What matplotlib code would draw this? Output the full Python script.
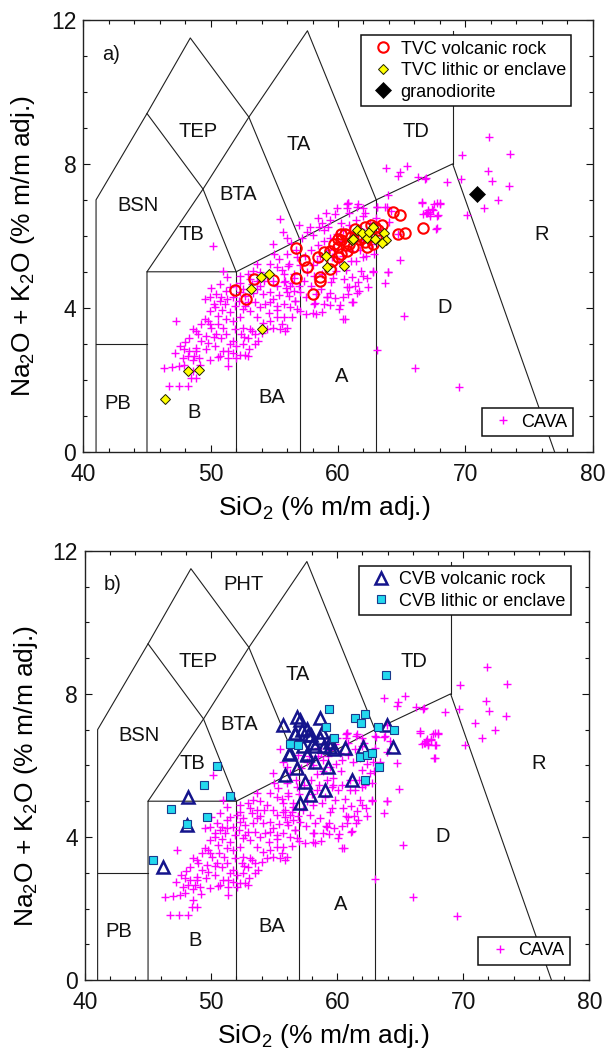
import matplotlib
matplotlib.use('Agg')
import matplotlib.pyplot as plt
from matplotlib.ticker import MultipleLocator

plt.rcParams['font.family'] = ['Liberation Sans', 'DejaVu Sans']
plt.rcParams['mathtext.fontset'] = 'custom'
plt.rcParams['mathtext.rm'] = 'Liberation Sans'
plt.rcParams['mathtext.default'] = 'regular'

# TAS field boundaries (SiO2, Na2O+K2O)
tas_lines = [
    [(41, 0), (41, 7), (45, 9.4), (48.4, 11.5), (53, 9.3), (57, 5.9)],
    [(41, 3), (45, 3)],
    [(45, 0), (45, 5), (52, 5), (57, 5.9), (63, 7), (69, 8), (77, 0)],
    [(52, 0), (52, 5)],
    [(57, 0), (57, 5.9)],
    [(63, 0), (63, 7)],
    [(45, 5), (49.4, 7.3), (53, 9.3), (57.6, 11.7), (63, 7)],
    [(45, 9.4), (49.4, 7.3), (52, 5)],
    [(69, 8), (69, 11.7)],
]
field_names = ['TEP', 'TA', 'TD', 'BTA', 'BSN', 'TB', 'R', 'D', 'A', 'BA', 'B', 'PB']
field_x = [49.0, 56.9, 66.1, 52.2, 44.3, 48.5, 76.0, 68.4, 60.3, 54.8, 48.7, 42.7]
field_y = [8.9, 8.55, 8.9, 7.15, 6.85, 6.05, 6.05, 4.0, 2.1, 1.5, 1.1, 1.35]

# CAVA compilation
cava_sio2 = [
    54.93, 50.17, 50.96, 47.27, 46.74, 47.48, 48.19, 46.34, 47.0, 47.53, 47.93, 48.46, 48.86, 48.59,
    47.8, 48.19, 48.72, 49.12, 47.93, 48.33, 48.86, 49.91, 50.57, 51.36, 51.36, 48.33, 48.99, 49.25,
    49.78, 50.31, 50.7, 50.96, 48.59, 48.86, 49.25, 49.78, 50.05, 50.44, 50.84, 51.23, 51.5, 51.76,
    51.36, 51.76, 52.02, 52.55, 52.68, 52.95, 52.29, 52.02, 52.42, 52.95, 53.48, 53.22, 53.74, 52.55,
    53.08, 53.61, 54.14, 54.67, 55.2, 55.6, 55.86, 55.47, 56.0, 54.93, 54.41, 53.87, 54.67, 55.2,
    55.73, 56.25, 56.78, 56.65, 56.12, 56.52, 49.91, 50.31, 50.7, 51.1, 51.5, 50.57, 51.23, 51.76,
    52.29, 49.91, 49.52, 50.44, 50.84, 51.23, 51.76, 52.29, 52.68, 52.95, 53.48, 52.55, 53.08, 50.7,
    51.5, 52.02, 52.55, 53.22, 53.61, 54.14, 54.67, 55.2, 55.73, 56.25, 52.29, 53.08, 53.61, 54.41,
    54.93, 55.73, 56.52, 55.2, 54.67, 53.61, 53.35, 55.33, 55.99, 56.78, 49.52, 49.91, 48.86, 49.64,
    63.74, 65.38, 64.85, 64.71, 66.25, 66.88, 66.6, 66.88, 67.2, 67.1, 63.71, 64.19, 63.97, 64.71,
    64.9, 63.92, 63.71, 65.19, 60.75, 61.6, 60.88, 63.09, 61.28, 61.94, 62.86, 63.39, 62.6, 61.94,
    61.41, 62.74, 61.94, 62.38, 61.67, 61.09, 60.09, 60.36, 60.75, 60.88, 60.48, 59.43, 59.83, 60.09,
    59.56, 59.03, 58.77, 59.17, 58.64, 58.24, 58.9, 58.11, 57.45, 58.24, 57.84, 57.05, 56.65, 55.99,
    55.73, 56.12, 56.52, 55.86, 58.11, 58.37, 59.69, 60.36, 61.02, 61.81, 61.02,
    71.86, 69.74, 73.49, 71.78, 66.83, 68.55, 69.66, 72.06, 73.39, 70.9, 72.54, 67.57, 68.02, 67.41,
    67.04, 66.7, 67.22, 67.78, 71.48, 70.16, 67.7, 66.04, 69.48,
    55.45, 59.03, 59.95, 60.73, 61.47, 62.12, 58.5, 59.37, 59.24, 58.06, 58.72, 63.95, 63.04, 63.82,
    66.57, 67.75, 68.01, 67.48, 67.87, 66.96, 67.75, 63.04, 63.95, 62.77, 62.25, 61.6, 61.08, 60.68,
    60.42, 60.16, 59.37, 59.63, 61.47, 61.2, 60.55, 59.76, 59.37, 58.72, 58.06, 58.19, 59.11, 57.15,
    57.8, 58.45, 60.68, 61.99, 60.81,
    50.0, 50.3, 50.9, 51.3, 51.9, 52.2, 52.7, 53.3, 53.9, 54.3, 54.9, 55.4, 55.9, 56.4, 56.9, 57.3,
    57.6, 57.0, 56.7, 57.4, 57.9, 58.4, 58.9, 59.4, 59.9, 60.4, 60.9, 61.4, 62.0, 62.5, 63.0, 62.4,
    61.8, 60.3, 59.7, 59.2, 58.6, 58.0, 57.5, 57.0, 56.4, 55.2, 54.6, 54.0, 53.5, 53.0, 52.6, 51.9,
    51.0, 50.3, 49.6, 49.2, 48.6, 48.0, 47.6, 47.2, 50.6, 52.3, 53.9, 54.2, 55.6, 56.1, 52.9, 51.3,
    55.0, 56.3, 56.0, 55.7, 57.6, 56.9, 59.8, 60.2, 58.9, 61.7, 62.2, 62.8, 62.9, 60.6, 61.3,
]
cava_alk = [
    5.78, 5.73, 5.03, 3.63, 1.82, 1.82, 1.82, 2.33, 2.35, 2.38, 2.42, 2.05, 2.05, 2.24,
    2.61, 2.66, 2.66, 2.61, 2.84, 2.8, 2.89, 2.56, 2.63, 2.38, 2.61, 3.17, 3.26, 3.08,
    3.03, 2.94, 2.66, 2.8, 3.4, 3.35, 3.54, 3.63, 3.45, 3.26, 3.17, 3.26, 2.98, 3.08,
    2.8, 2.75, 2.94, 2.98, 2.7, 2.66, 2.7, 2.61, 3.26, 3.17, 3.26, 3.35, 3.08, 3.45,
    3.4, 3.73, 3.59, 3.63, 3.73, 3.54, 3.35, 3.4, 3.45, 3.45, 3.4, 4.01, 4.15, 4.05,
    4.1, 4.01, 3.96, 4.19, 4.33, 4.47, 3.91, 4.01, 4.19, 4.1, 3.87, 3.77, 3.68, 3.63,
    3.73, 3.54, 3.68, 4.38, 4.29, 4.47, 4.29, 4.43, 4.33, 4.15, 4.15, 3.96, 3.91, 4.66,
    4.57, 4.61, 4.52, 4.66, 4.52, 4.38, 4.43, 4.61, 4.71, 4.61, 4.89, 4.8, 4.75, 4.89,
    4.75, 4.94, 4.84, 5.12, 5.22, 5.22, 5.03, 5.36, 5.5, 5.4, 4.24, 4.29, 2.8, 3.21,
    7.88, 7.94, 7.78, 7.66, 7.64, 7.6, 6.91, 6.63, 6.6, 6.73, 6.8, 6.69, 6.38, 6.06,
    5.33, 5.0, 4.68, 3.77, 6.9, 6.88, 6.63, 6.8, 6.1, 5.87, 6.1, 6.1, 5.78, 5.4,
    5.31, 5.03, 4.89, 4.58, 4.47, 4.15, 3.96, 3.68, 4.38, 4.57, 4.8, 4.71, 5.03, 5.31,
    5.4, 5.12, 4.94, 4.29, 4.52, 4.38, 4.1, 4.1, 3.82, 3.82, 4.61, 4.43, 4.19, 4.43,
    3.73, 5.22, 4.94, 4.75, 4.89, 5.31, 5.64, 5.45, 5.31, 5.03, 5.59,
    8.76, 8.25, 8.28, 7.8, 7.59, 7.49, 7.57, 7.53, 7.39, 7.18, 6.99, 6.88, 6.88, 6.75,
    6.67, 6.6, 6.56, 6.56, 6.77, 6.57, 6.2, 2.33, 1.79,
    6.47, 6.63, 6.77, 6.88, 6.81, 6.64, 6.25, 6.44, 6.25, 6.02, 6.35, 7.13, 6.81, 6.81,
    6.95, 6.9, 6.9, 6.72, 6.58, 6.63, 6.21, 2.83, 5.0, 5.0, 4.82, 4.72, 4.86, 4.59,
    4.31, 4.08, 4.4, 4.82, 4.4, 4.17, 3.68, 4.26, 4.08, 3.89, 3.85, 4.12, 4.31, 5.93,
    6.25, 6.49, 6.76, 6.76, 6.9,
    4.55, 4.1, 3.95, 4.25, 4.05, 4.2, 4.05, 4.4, 4.6, 4.1, 4.25, 4.35, 4.55, 4.7, 4.6, 4.75,
    5.0, 5.2, 5.6, 5.45, 5.6, 5.75, 5.85, 5.95, 6.05, 6.15, 6.3, 6.45, 6.55, 6.35, 6.5, 6.05,
    6.2, 5.85, 5.45, 5.6, 5.45, 5.2, 4.3, 3.9, 3.75, 3.95, 3.85, 3.3, 3.0, 2.85, 3.2, 3.4,
    3.45, 3.2, 2.85, 2.4, 2.55, 3.05, 2.95, 2.75, 3.55, 4.7, 5.0, 4.75, 5.05, 5.15, 4.95, 4.85,
    5.5, 5.8, 5.95, 6.1, 6.1, 6.3, 6.6, 6.35, 6.15, 5.6, 5.45, 5.5, 5.85, 5.05, 4.6,
]

# TVC samples (panel a)
tvc_rock_sio2 = [51.9, 52.76, 53.4, 54.86, 56.72, 56.68, 57.3, 57.54, 58.07, 58.42, 58.55, 58.62,
                 59.36, 58.9, 59.36, 59.66, 59.97, 60.27, 60.58, 60.27, 60.73, 61.19, 61.65, 61.04,
                 61.34, 62.1, 62.56, 61.95, 62.26, 62.56, 62.96, 63.17, 63.48, 64.3, 64.86, 64.72,
                 65.23, 66.64, 59.97, 59.5, 60.27, 60.88, 59.97, 62.1, 62.71, 60.6, 61.5, 62.9]
tvc_rock_alk = [4.48, 4.24, 4.8, 4.77, 5.65, 4.83, 5.32, 5.13, 4.39, 5.41, 4.86, 4.75,
                5.07, 5.54, 5.59, 5.77, 5.91, 5.87, 6.05, 6.05, 5.59, 5.68, 5.91, 5.96,
                6.19, 6.24, 6.29, 5.96, 5.68, 6.0, 5.96, 6.15, 6.29, 6.65, 6.58, 6.06,
                6.08, 6.23, 5.4, 5.3, 5.49, 5.77, 5.68, 5.82, 5.77, 5.75, 6.0, 6.25]
tvc_lithic_sio2 = [46.4, 48.23, 49.09, 53.17, 53.93, 54.61, 54.06, 59.06, 59.11, 60.47, 61.1,
                   61.47, 61.2, 61.86, 62.25, 62.46, 62.72, 62.9, 63.64, 63.77, 63.43]
tvc_lithic_alk = [1.47, 2.24, 2.26, 4.52, 4.86, 4.93, 3.4, 5.45, 5.14, 5.17, 5.87,
                  6.16, 5.9, 6.07, 5.93, 6.11, 6.25, 5.9, 6.07, 5.88, 5.79]
grano_sio2 = [70.95]
grano_alk = [7.16]

# CVB samples (panel b)
cvb_rock_sio2 = [46.21, 48.19, 48.06, 55.73, 56.79, 58.64, 57.05, 57.6, 56.68, 57.91, 57.29,
                 58.21, 58.98, 59.75, 60.62, 62.07, 61.15, 64.45, 63.92, 59.3, 59.03, 57.84,
                 57.05, 57.45, 55.86, 56.79, 56.26, 57.58, 58.24, 58.64, 59.43, 57.18, 57.71,
                 56.65, 58.1, 56.22, 57.6, 58.83, 59.45]
cvb_rock_alk = [3.17, 5.13, 4.33, 7.13, 7.36, 7.32, 7.28, 7.02, 6.88, 6.84, 6.55,
                6.55, 6.55, 6.46, 6.48, 6.52, 5.59, 6.52, 7.13, 5.96, 5.31, 5.17,
                4.94, 5.54, 5.73, 5.92, 6.34, 6.29, 6.1, 6.76, 6.52, 6.99, 6.85,
                6.9, 6.62, 6.32, 6.32, 6.93, 6.65]
cvb_lithic_sio2 = [63.84, 59.38, 61.41, 62.2, 61.89, 63.21, 64.53, 59.11, 59.75, 56.26, 56.92,
                   61.81, 62.34, 62.78, 63.34, 62.2, 50.49, 49.44, 51.5, 46.79, 49.7, 48.06, 45.37]
cvb_lithic_alk = [8.53, 7.57, 7.33, 7.44, 7.19, 7.08, 6.99, 7.08, 6.78, 6.6, 6.57,
                  6.24, 6.29, 6.34, 5.96, 5.59, 5.98, 5.45, 5.15, 4.77, 4.57, 4.35, 3.37]

magenta = '#ff00ff'
navy = '#14148c'

fig = plt.figure(figsize=(6.09, 10.57), dpi=100)
ax_a = fig.add_axes([0.1368, 0.5727, 0.8365, 0.4084])
ax_b = fig.add_axes([0.1396, 0.0728, 0.8280, 0.4061])


def draw_base(ax, tag, extra_label=False):
    for seg in tas_lines:
        ax.plot([p[0] for p in seg], [p[1] for p in seg], color='#202020', lw=0.8, zorder=1)
    for name, x, y in zip(field_names, field_x, field_y):
        ax.text(x, y, name, fontsize=14.5, ha='center', va='center', color='#111111')
    if extra_label:
        ax.text(52.6, 11.05, 'PHT', fontsize=14.5, ha='center', va='center', color='#111111')
    ax.text(42.2, 11.05, tag, fontsize=14.5, ha='center', va='center', color='#111111')
    cava, = ax.plot(cava_sio2, cava_alk, ls='none', marker='+', ms=5.5, mew=1.0,
                    color=magenta, zorder=2)
    ax.set_xlim(40, 80)
    ax.set_ylim(0, 12)
    ax.xaxis.set_major_locator(MultipleLocator(10))
    ax.xaxis.set_minor_locator(MultipleLocator(2))
    ax.yaxis.set_major_locator(MultipleLocator(4))
    ax.yaxis.set_minor_locator(MultipleLocator(1))
    ax.tick_params(which='both', direction='in', top=True, right=True, labelsize=16.5,
                   colors='#111111', width=0.8)
    ax.tick_params(which='major', length=5)
    ax.tick_params(which='minor', length=3)
    ax.tick_params(axis='x', pad=8)
    ax.tick_params(axis='y', pad=5)
    for s in ax.spines.values():
        s.set_linewidth(1.0)
        s.set_color('#222222')
    ax.set_xlabel('SiO$_2$ (% m/m adj.)', fontsize=19)
    ax.set_ylabel('Na$_2$O + K$_2$O (% m/m adj.)', fontsize=19)
    ax.xaxis.set_label_coords(0.473, -0.098)
    ax.yaxis.set_label_coords(-0.09, 0.476)
    leg2 = ax.legend([cava], ['CAVA'], loc='lower right', bbox_to_anchor=(0.961, 0.036),
                     borderaxespad=0, fontsize=13, fancybox=False, edgecolor='#111111',
                     framealpha=1, borderpad=0.3, handlelength=1.8, handletextpad=0.1)
    leg2.get_frame().set_linewidth(1.1)
    ax.add_artist(leg2)


draw_base(ax_a, 'a)')
h1, = ax_a.plot(tvc_rock_sio2, tvc_rock_alk, ls='none', marker='o', ms=7.5, mew=1.5,
                mfc='none', mec='#ff0000', zorder=3)
h2, = ax_a.plot(tvc_lithic_sio2, tvc_lithic_alk, ls='none', marker='D', ms=5.0, mew=0.7,
                mfc='#ffff00', mec='#222200', zorder=4)
h3, = ax_a.plot(grano_sio2, grano_alk, ls='none', marker='D', ms=8.5, mew=0.5,
                mfc='black', mec='black', zorder=4)
leg = ax_a.legend([h1, h2, h3], ['TVC volcanic rock', 'TVC lithic or enclave', 'granodiorite'],
                  loc='upper left', bbox_to_anchor=(0.545, 0.965), borderaxespad=0,
                  fontsize=13, fancybox=False, edgecolor='#111111', framealpha=1,
                  borderpad=0.3, handlelength=1.8, handletextpad=0.1, labelspacing=0.25)
leg.get_frame().set_linewidth(1.1)

draw_base(ax_b, 'b)', extra_label=True)
h4, = ax_b.plot(cvb_rock_sio2, cvb_rock_alk, ls='none', marker='^', ms=9, mew=1.8,
                mfc='none', mec=navy, zorder=3)
h5, = ax_b.plot(cvb_lithic_sio2, cvb_lithic_alk, ls='none', marker='s', ms=5.2, mew=0.8,
                mfc='#22d8ee', mec='#1a3a8c', zorder=4)
leg = ax_b.legend([h4, h5], ['CVB volcanic rock', 'CVB lithic or enclave'],
                  loc='upper left', bbox_to_anchor=(0.544, 0.965), borderaxespad=0,
                  fontsize=13, fancybox=False, edgecolor='#111111', framealpha=1,
                  borderpad=0.3, handlelength=1.8, handletextpad=0.1, labelspacing=0.25)
leg.get_frame().set_linewidth(1.1)

fig.savefig('out.png', dpi=100, facecolor='white')
